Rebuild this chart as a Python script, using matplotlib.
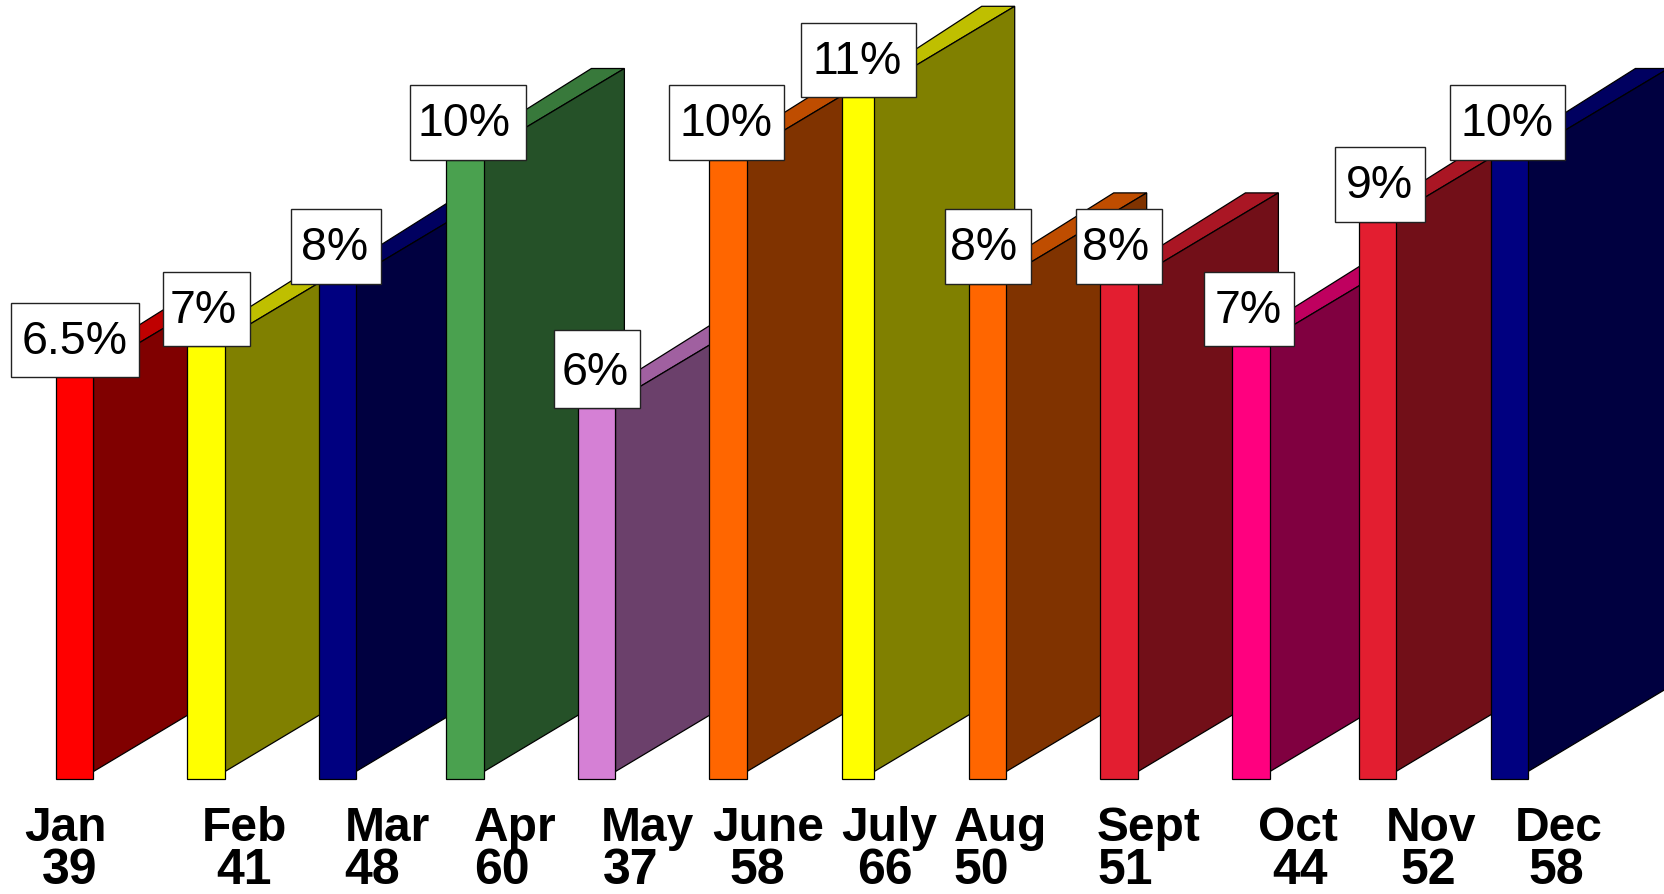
#monthly share bars drawn with an oblique 3d look
import matplotlib
matplotlib.use("Agg")
import matplotlib.pyplot as plt
from matplotlib.patches import Polygon, Rectangle
from matplotlib.colors import to_rgb

months=["Jan","Feb","Mar","Apr","May","June","July","Aug","Sept","Oct","Nov","Dec"]
counts=[39,41,48,60,37,58,66,50,51,44,52,58]
percent=[6.5,7,8,10,6,10,11,8,8,7,9,10]
percent_labels=["6.5%","7%","8%","10%","6%","10%","11%","8%","8%","7%","9%","10%"]
colors=["#ff0000","#ffff00","#000080","#4aa14f","#d580d5","#ff6600","#ffff00","#ff6600","#e31e30","#ff007f","#e31e30","#000080"]

#layout in pixels
W,H=1665,895
base_px=782.5
floor_px=779.5
px_per_pct=62.2
bar_left=[56,187.5,319,446.5,578,709.5,841.8,968.8,1100.5,1232.5,1359,1491]
bar_w=[37.5,37.5,37,37.5,37.5,37.5,32.5,37.5,37.5,37.5,37,37]
back_w=33
depth_x=140.4
depth_y=84/px_per_pct
lift=7/px_per_pct
floor=(base_px-floor_px)/px_per_pct
box_left=[11.3,163.3,290.7,410,554,669,800.7,945,1076.3,1204,1335.5,1450.4]
box_w=[127.4,86.4,90.6,115.6,86,115.3,115,86,86.1,90.3,89.9,114.9]
box_h=[74.5,74.5,74.5,74.5,78,74.5,74.5,74.5,74.5,74.5,74.5,74.5]
label_dx=[1,-2,0,-3,-1,0,0,-3,-3,0,0,0]
month_x=[24.5,201.8,345.2,473.7,601,712.6,841,953.6,1097,1258.4,1385.8,1514.3]
count_x=[41.5,216,344.5,474,602.5,729,857.5,953,1097.5,1272.5,1400,1528.5]
month_y=-(841.5-base_px)/px_per_pct
count_y=-(884-base_px)/px_per_pct

def shade(c,k):
	r,g,b=to_rgb(c)
	return (r*k,g*k,b*k)

plt.rcParams['font.family']=['Liberation Sans','DejaVu Sans']
fig=plt.figure(figsize=(W/100,H/100),dpi=100)
ax=fig.add_axes([0,0,1,1])
ax.set_xlim(0,W)
ax.set_ylim(-(H-base_px)/px_per_pct,base_px/px_per_pct)
ax.axis("off")

lw=0.9
for i,p in enumerate(percent):
	x0=bar_left[i]
	x1=x0+bar_w[i]
	x2=x1+depth_x
	c=colors[i]
	top=[(x0,p),(x1,p+lift),(x2,p+lift+depth_y),(x2-back_w,p+lift+depth_y)]
	side=[(x1,floor+lift),(x1,p+lift),(x2,p+lift+depth_y),(x2,floor+lift+depth_y)]
	ax.add_patch(Polygon(top,closed=True,facecolor=shade(c,0.75),edgecolor="black",linewidth=lw,zorder=2+i))
	ax.add_patch(Polygon(side,closed=True,facecolor=shade(c,0.5),edgecolor="black",linewidth=lw,zorder=2+i))
	ax.add_patch(Rectangle((x0,floor),bar_w[i],p-floor,facecolor=c,edgecolor="black",linewidth=lw,zorder=2+i))

for i,p in enumerate(percent):
	ax.add_patch(Rectangle((box_left[i],p),box_w[i],box_h[i]/px_per_pct,facecolor="white",edgecolor="#222222",linewidth=1.0,zorder=30))
	ax.text(box_left[i]+box_w[i]/2-1+label_dx[i],p+24.5/px_per_pct,percent_labels[i],fontsize=33.5,ha="center",va="baseline",color="black",zorder=31)
	ax.text(month_x[i],month_y,months[i],fontsize=34.5,fontweight="bold",ha="left",va="baseline",color="black")
	ax.text(count_x[i],count_y,str(counts[i]),fontsize=36,fontweight="bold",ha="left",va="baseline",color="black")

fig.savefig("out.png",dpi=100,facecolor="white")
